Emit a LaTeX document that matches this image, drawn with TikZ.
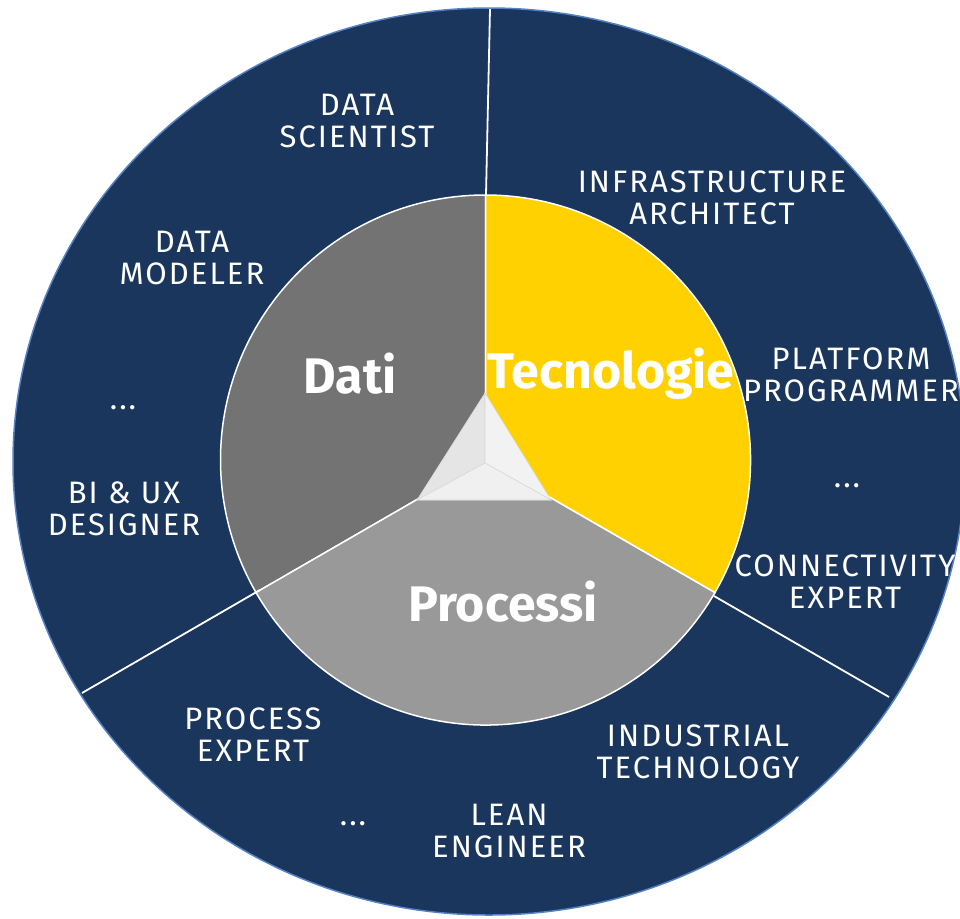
\documentclass[tikz,border=0pt]{standalone}
\usepackage{fontspec}
\setmainfont{Fira Sans}
\newfontfamily\rolefont[LetterSpace=6.5]{Fira Sans}
\usepackage{tikz}
\usetikzlibrary{positioning}

\definecolor{navy}{RGB}{26,54,93}
\definecolor{rim}{RGB}{84,130,196}
\definecolor{datigray}{RGB}{115,115,115}
\definecolor{procgray}{RGB}{153,153,153}
\definecolor{tecyellow}{RGB}{255,209,0}

\begin{document}
\begin{tikzpicture}[x=1pt, y=1pt,
    role/.style={text=white, align=center, font=\rolefont\fontsize{31}{32}\selectfont},
    area/.style={text=white, font=\fontsize{50}{52}\selectfont\bfseries},
    sector/.style={draw=white, line width=1.5pt},
    divider/.style={draw=white, line width=1.8pt},
    face/.style={draw=black!15, line width=0.6pt}]
        \useasboundingbox (0,0) rectangle (960,-918);
        % outer ring
        \fill[navy, draw=rim, line width=1.5pt] (489,-461.5) ellipse [x radius=476, y radius=453.5];
        % pie
        \coordinate (ctr) at (485.5,-460);
        \path[sector, fill=datigray] (ctr) -- ++(90:265) arc[start angle=90, end angle=210, radius=265] -- cycle;
        \path[sector, fill=procgray] (ctr) -- ++(210:265) arc[start angle=210, end angle=330, radius=265] -- cycle;
        \path[sector, fill=tecyellow] (ctr) -- ++(-30:265) arc[start angle=-30, end angle=90, radius=265] -- cycle;
        % dividers
        \coordinate (topIn) at (486,-195);
        \coordinate (topOut) at (490,-9);
        \coordinate (rightIn) at (714,-596);
        \coordinate (rightOut) at (889,-697);
        \coordinate (leftIn) at (260,-590);
        \coordinate (leftOut) at (82,-693);
        \draw[divider] (topIn) -- (topOut);
        \draw[divider] (rightIn) -- (rightOut);
        \draw[divider] (leftIn) -- (leftOut);
        % pyramid
        \coordinate (apex) at (485,-393);
        \coordinate (baseL) at (417,-500);
        \coordinate (baseR) at (551,-500);
        \coordinate (mid) at (485,-463);
        \filldraw[face, fill=black!10] (apex) -- (mid) -- (baseL) -- cycle;
        \filldraw[face, fill=black!5] (apex) -- (mid) -- (baseR) -- cycle;
        \filldraw[face, fill=black!6] (baseL) -- (mid) -- (baseR) -- cycle;
        \draw[black!25, line width=1pt] (baseL) -- (baseR);
        % labels
        \node[area] (dati) at (350,-374) {Dati};
        \node[area] (tecno) at (611,-374) {Tecnologie};
        \node[area] (proc) at (503,-602) {Processi};
        \node[role] (scientist) at (357,-121) {DATA\\SCIENTIST};
        \node[role] (modeler) at (192,-258) {DATA\\MODELER};
        \node[role] (dotsL) at (123,-408) {...};
        \node[role] (designer) at (124,-509) {BI \& UX\\DESIGNER};
        \node[role] (architect) at (712,-198) {INFRASTRUCTURE\\ARCHITECT};
        \node[role] (programmer) at (851,-375) {PLATFORM\\PROGRAMMER};
        \node[role] (dotsR) at (847,-486) {...};
        \node[role] (connect) at (845,-582) {CONNECTIVITY\\EXPERT};
        \node[role] (industrial) at (698,-752) {INDUSTRIAL\\TECHNOLOGY};
        \node[role] (procexp) at (253,-735) {PROCESS\\EXPERT};
        \node[role] (dotsB) at (353,-824) {...};
        \node[role] (lean) at (509,-831) {LEAN\\ENGINEER};
\end{tikzpicture}
\end{document}
